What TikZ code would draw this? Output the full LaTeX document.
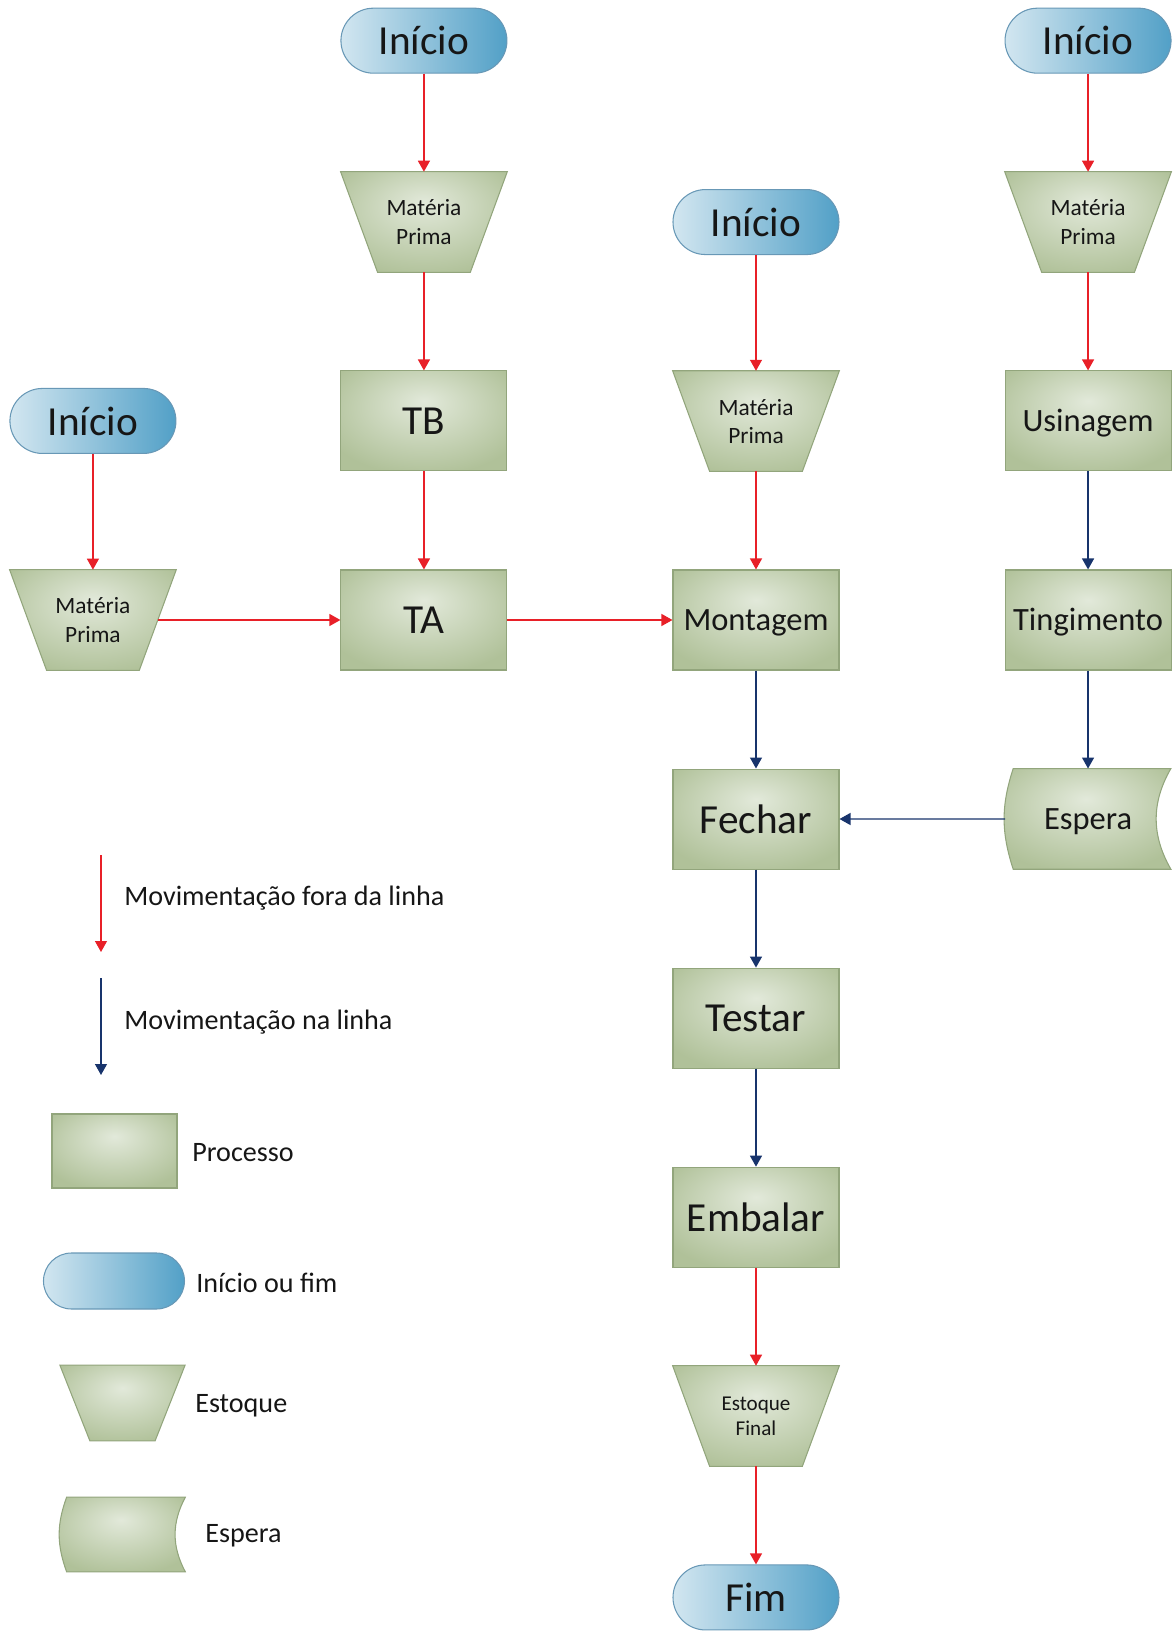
\documentclass[tikz,border=0pt]{standalone}
\usepackage{fontspec}
\setmainfont{Carlito}
\usepackage{tikz}
\usetikzlibrary{shapes.geometric, arrows.meta, positioning, calc, backgrounds}
\definecolor{verdeclaro}{RGB}{226, 233, 218}
\definecolor{verdeescuro}{RGB}{176, 193, 153}
\definecolor{verdeborda}{RGB}{146, 165, 124}
\definecolor{azulclaro}{RGB}{210, 230, 240}
\definecolor{azulescuro}{RGB}{82, 160, 199}
\definecolor{azulborda}{RGB}{104, 152, 182}
\definecolor{vermelho}{RGB}{232, 32, 40}
\definecolor{marinho}{RGB}{24, 52, 108}
\definecolor{texto}{RGB}{22, 22, 22}
\pgfdeclareradialshading{brilho}{\pgfpoint{0bp}{10bp}}{%
  color(0bp)=(verdeclaro); color(32bp)=(verdeescuro); color(60bp)=(verdeescuro)}
\tikzset{
  font=\fontsize{23.5}{28}\selectfont,
  text=texto,
  verde/.style={draw=verdeborda, line width=0.6pt, shading=brilho},
  processo/.style={
    rectangle, verde, minimum width=3.32cm, minimum height=2cm,
    inner sep=2pt, align=center
  },
  estoque/.style={
    rectangle, minimum width=2.58cm, minimum height=2cm, inner sep=2pt,
    align=center, font=\fontsize{13.3}{16}\selectfont
  },
  espera/.style={
    rectangle, minimum width=3.3cm, minimum height=2cm,
    inner sep=2pt, align=center
  },
  inicio/.style={
    rectangle, rounded corners=0.65cm, draw=azulborda, line width=0.6pt,
    left color=azulclaro, right color=azulescuro,
    minimum width=3.32cm, minimum height=1.3cm, inner sep=2pt
  },
  medio/.style={font=\fontsize{18.5}{22}\selectfont, text height=13.8pt, text depth=2pt},
  legenda/.style={anchor=west, inner sep=0pt, font=\fontsize{16}{19}\selectfont},
  foralinha/.style={
    draw=vermelho, line width=0.75pt, -{Triangle[length=0.22cm, width=0.24cm]}
  },
  nalinha/.style={
    draw=marinho, line width=0.75pt, -{Triangle[length=0.22cm, width=0.24cm]}
  }
}
\begin{document}
\begin{tikzpicture}
  \useasboundingbox (-15.12,-20.22) rectangle (8.34,12.4);

  % Linha de montagem (coluna central)
  \node[processo, medio] (montagem) {Montagem};
  \node[processo, left=3.3cm of montagem] (ta) {TA};
  \node[processo, above=1.96cm of ta] (tb) {TB};
  \node[estoque, above=1.96cm of tb] (mp2) {Matéria\\Prima};
  \node[inicio, above=1.96cm of mp2] (ini2) {Início};

  \node[estoque, above=1.96cm of montagem] (mp3) {Matéria\\Prima};
  \node[inicio] (ini3) at (montagem |- mp2) {Início};

  % Coluna da direita
  \node[processo, medio, right=3.3cm of montagem] (tingimento) {Tingimento};
  \node[processo, medio, above=1.96cm of tingimento] (usinagem) {Usinagem};
  \node[estoque, above=1.96cm of usinagem] (mp4) {Matéria\\Prima};
  \node[inicio, above=1.96cm of mp4] (ini4) {Início};
  \node[espera, medio, below=1.96cm of tingimento] (espera) {Espera};

  % Coluna da esquerda
  \node[estoque] (mp1) at ($(ta)+(-6.62,0)$) {Matéria\\Prima};
  \node[inicio] (ini1) at (mp1 |- tb) {Início};

  % Final da linha
  \node[processo, below=1.96cm of montagem] (fechar) {Fechar};
  \node[processo, below=1.96cm of fechar] (testar) {Testar};
  \node[processo, below=1.96cm of testar] (embalar) {Embalar};
  \node[estoque, below=1.96cm of embalar, font=\fontsize{12}{14.2}\selectfont] (estfinal) {Estoque\\Final};
  \node[inicio, below=1.96cm of estfinal] (fim) {Fim};

  % Legenda
  \coordinate (fora1) at (-13.1,-4.7);
  \coordinate (fora2) at (-13.1,-6.64);
  \coordinate (na1) at (-13.1,-7.16);
  \coordinate (na2) at (-13.1,-9.1);
  \draw[foralinha] (fora1) -- (fora2);
  \draw[nalinha] (na1) -- (na2);
  \node[legenda] (txtfora) at (-12.64,-5.56) {Movimentação fora da linha};
  \node[legenda] (txtna) at (-12.64,-8.04) {Movimentação na linha};

  \node[processo, minimum width=2.5cm, minimum height=1.48cm] (legprocesso) at (-12.83,-10.62) {};
  \node[legenda] (txtprocesso) at (-11.28,-10.66) {Processo};
  \node[inicio, minimum width=2.82cm, minimum height=1.12cm, rounded corners=0.56cm] (leginicio) at (-12.84,-13.22) {};
  \node[legenda] (txtinicio) at (-11.2,-13.26) {Início ou fim};
  \node[estoque, minimum width=1.89cm, minimum height=1.5cm] (legestoque) at (-12.67,-15.66) {};
  \node[legenda] (txtestoque) at (-11.22,-15.72) {Estoque};
  \node[espera, minimum width=2.5cm, minimum height=1.48cm] (legespera) at (-12.67,-18.29) {};
  \node[legenda] (txtespera) at (-11.02,-18.32) {Espera};

  % Formas de estoque e espera (fundo)
  \begin{scope}[on background layer]
    \foreach \no in {mp1, mp2, mp3, mp4, estfinal}
      \shadedraw[verde] ($(\no.north west)+(-0.37,0)$) -- ($(\no.north east)+(0.37,0)$)
        -- ($(\no.south east)+(-0.37,0)$) -- ($(\no.south west)+(0.37,0)$) -- cycle;
    \shadedraw[verde] ($(legestoque.north west)+(-0.3,0)$) -- ($(legestoque.north east)+(0.3,0)$)
      -- ($(legestoque.south east)+(-0.3,0)$) -- ($(legestoque.south west)+(0.3,0)$) -- cycle;
    \shadedraw[verde] ($(espera.north west)+(0.16,0)$) to[bend right=18] ($(espera.south west)+(0.16,0)$)
      -- (espera.south east) to[bend left=30] (espera.north east) -- cycle;
    \shadedraw[verde] ($(legespera.north west)+(0.14,0)$) to[bend right=20] ($(legespera.south west)+(0.14,0)$)
      -- (legespera.south east) to[bend left=28] (legespera.north east) -- cycle;
  \end{scope}

  % Movimentacao fora da linha
  \draw[foralinha] (ini2) -- (mp2);
  \draw[foralinha] (mp2) -- (tb);
  \draw[foralinha] (tb) -- (ta);
  \draw[foralinha] (ini1) -- (mp1);
  \draw[foralinha] (mp1) -- (ta);
  \draw[foralinha] (ta) -- (montagem);
  \draw[foralinha] (ini3) -- (mp3);
  \draw[foralinha] (mp3) -- (montagem);
  \draw[foralinha] (ini4) -- (mp4);
  \draw[foralinha] (mp4) -- (usinagem);
  \draw[foralinha] (embalar) -- (estfinal);
  \draw[foralinha] (estfinal) -- (fim);

  % Movimentacao na linha
  \draw[nalinha] (usinagem) -- (tingimento);
  \draw[nalinha] (tingimento) -- (espera);
  \draw[nalinha] (espera) -- (fechar);
  \draw[nalinha] (montagem) -- (fechar);
  \draw[nalinha] (fechar) -- (testar);
  \draw[nalinha] (testar) -- (embalar);
\end{tikzpicture}
\end{document}
